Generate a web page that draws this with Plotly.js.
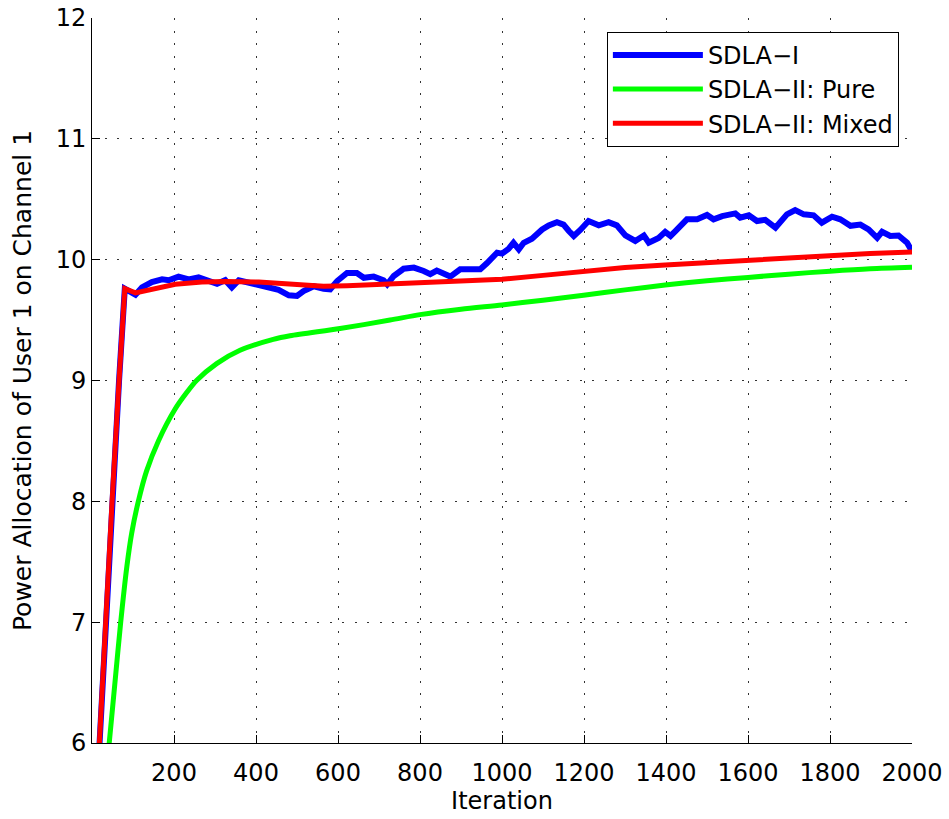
<!DOCTYPE html>
<html>
<head>
<meta charset="utf-8">
<script src="https://cdn.plot.ly/plotly-3.0.1.min.js"></script>
<style>html,body{margin:0;padding:0;background:#fff;}#chart{width:949px;height:819px;}</style>
</head>
<body>
<div id="chart"></div>
<script>
// SDLA-I (blue)
const blueX = [1,18,32,49,66,80,92,106,122,146,171,187,211,236,260,285,305,325,341,358,382,407,431,455,480,500,516,541,565,581,598,622,646,663,687,711,720,736,760,785,809,825,841,858,874,898,923,947,963,988,1000,1016,1028,1041,1053,1073,1098,1114,1134,1150,1163,1175,1191,1211,1236,1260,1280,1301,1325,1346,1358,1382,1398,1411,1423,1451,1476,1500,1516,1537,1569,1581,1602,1622,1642,1667,1695,1715,1736,1760,1780,1805,1825,1850,1874,1894,1915,1927,1947,1967,1988,2000];
const blueY = [4.9,6.0,7.0,8.0,9.0,9.76,9.73,9.71,9.77,9.815,9.837,9.83,9.86,9.837,9.854,9.823,9.80,9.83,9.77,9.83,9.81,9.796,9.78,9.75,9.705,9.70,9.74,9.78,9.76,9.755,9.823,9.89,9.89,9.85,9.86,9.83,9.796,9.865,9.925,9.934,9.906,9.88,9.91,9.88,9.86,9.92,9.925,9.92,9.97,10.058,10.05,10.09,10.14,10.086,10.14,10.174,10.25,10.284,10.31,10.29,10.237,10.196,10.246,10.32,10.284,10.31,10.284,10.20,10.155,10.20,10.14,10.18,10.23,10.196,10.237,10.334,10.334,10.37,10.334,10.36,10.383,10.348,10.367,10.32,10.33,10.265,10.375,10.41,10.375,10.367,10.306,10.356,10.334,10.28,10.29,10.25,10.18,10.23,10.196,10.20,10.14,10.07];

// SDLA-II: Pure (green)
const greenX = [20,42,56,70,85,97,113,133,162,202,231,255,304,361,442,483,605,727,800,900,1000,1100,1199,1300,1398,1500,1600,1699,1800,1898,2000];
const greenY = [5.2,6.0,6.5,7.0,7.46,7.74,8.0,8.25,8.50,8.76,8.90,9.0,9.14,9.25,9.34,9.37,9.43,9.50,9.545,9.59,9.625,9.665,9.705,9.75,9.79,9.825,9.853,9.88,9.905,9.925,9.937];

// SDLA-II: Mixed (red)
const redX = [1,18,32,49,66,80,106,163,203,268,325,407,500,565,622,744,866,1000,1100,1199,1300,1398,1500,1600,1699,1800,1898,2000];
const redY = [4.9,6.0,7.0,8.0,9.0,9.76,9.725,9.768,9.796,9.815,9.82,9.815,9.795,9.78,9.785,9.80,9.815,9.837,9.87,9.906,9.935,9.956,9.975,9.997,10.017,10.037,10.052,10.063];

const seriesNames = ["SDLA\u2212I", "SDLA\u2212II: Pure", "SDLA\u2212II: Mixed"];
const xTicks = [200,400,600,800,1000,1200,1400,1600,1800,2000];
const yTicks = [6,7,8,9,10,11,12];

const font = "DejaVu Sans, Liberation Sans, Arial, sans-serif";

const traces = [
  {x: blueX, y: blueY, name: seriesNames[0], mode: "lines", line: {color: "#0000ff", width: 6}},
  {x: greenX, y: greenY, name: seriesNames[1], mode: "lines", line: {color: "#00ff00", width: 5, shape: "spline", smoothing: 0.8}},
  {x: redX, y: redY, name: seriesNames[2], mode: "lines", line: {color: "#ff0000", width: 5}}
];

const axisCommon = {
  showline: true, linecolor: "#000", linewidth: 1, mirror: false,
  ticks: "inside", ticklen: 8, tickcolor: "#000", tickwidth: 1,
  showgrid: true, gridcolor: "#333", gridwidth: 1, griddash: "2px,10.5px",
  zeroline: false, tickfont: {family: font, size: 24, color: "#000"}
};

const layout = {
  width: 949, height: 819,
  margin: {l: 92, r: 37, t: 18, b: 76},
  paper_bgcolor: "#fff", plot_bgcolor: "#fff",
  font: {family: font, size: 24, color: "#000"},
  showlegend: true,
  legend: {
    x: 0.984, xanchor: "right", y: 0.981, yanchor: "top",
    bordercolor: "#000", borderwidth: 1, bgcolor: "#fff",
    font: {family: font, size: 24, color: "#000"},
    itemwidth: 90
  },
  xaxis: Object.assign({}, axisCommon, {
    range: [0, 2000], tickmode: "array", tickvals: xTicks, ticktext: xTicks.map(String),
    ticklabelstandoff: 8,
    title: {text: "Iteration", font: {family: font, size: 24, color: "#000"}, standoff: 4}
  }),
  yaxis: Object.assign({}, axisCommon, {
    range: [6, 12], tickmode: "array", tickvals: yTicks, ticktext: yTicks.map(String),
    title: {text: "Power Allocation of User 1 on Channel 1", font: {family: font, size: 25, color: "#000"}, standoff: 16}
  })
};

Plotly.newPlot("chart", traces, layout, {displayModeBar: false, staticPlot: true});
</script>
</body>
</html>
